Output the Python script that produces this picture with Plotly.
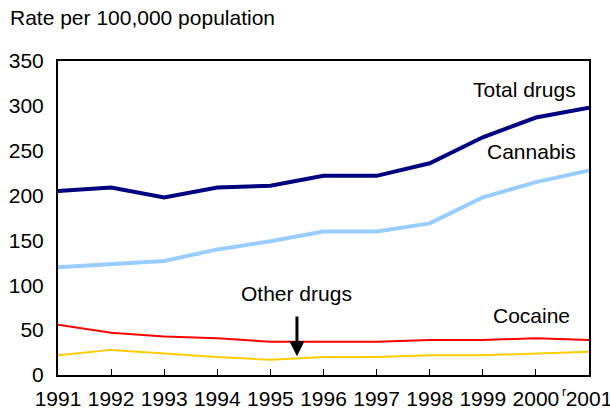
import plotly.graph_objects as go

years = [1991, 1992, 1993, 1994, 1995, 1996, 1997, 1998, 1999, 2000, 2001]
tick_labels = ["1991", "1992", "1993", "1994", "1995", "1996", "1997", "1998", "1999", "2000", "2001"]
total_drugs = [205, 209, 198, 209, 211, 222, 222, 236, 265, 287, 298]
cannabis = [120, 124, 127, 140, 149, 160, 160, 169, 198, 215, 228]
cocaine = [56, 47, 43, 41, 37, 37, 37, 39, 39, 41, 39]
other_drugs = [22, 28, 24, 20, 17, 20, 20, 22, 22, 24, 26]

FONT = "Liberation Sans, Arial, sans-serif"
FS = 21

fig = go.Figure()
fig.add_trace(go.Scatter(x=years, y=other_drugs, mode="lines", line=dict(color="#ffcc00", width=2)))
fig.add_trace(go.Scatter(x=years, y=cocaine, mode="lines", line=dict(color="#ff0000", width=2)))
fig.add_trace(go.Scatter(x=years, y=cannabis, mode="lines", line=dict(color="#99ccff", width=4)))
fig.add_trace(go.Scatter(x=years, y=total_drugs, mode="lines", line=dict(color="#000080", width=4)))

ann = [
    dict(x=2000.8, y=318, xref="x", yref="y", text="Total drugs", xanchor="right", yanchor="middle", showarrow=False),
    dict(x=2000.8, y=249, xref="x", yref="y", text="Cannabis", xanchor="right", yanchor="middle", showarrow=False),
    dict(x=2000.68, y=66, xref="x", yref="y", text="Cocaine", xanchor="right", yanchor="middle", showarrow=False),
    dict(x=1995.5, y=91, xref="x", yref="y", text="Other drugs", xanchor="center", yanchor="middle", showarrow=False),
    dict(x=1995.5, y=21, ax=1995.5, ay=67, axref="x", ayref="y", xref="x", yref="y",
         text="", showarrow=True, arrowhead=2, arrowsize=1, arrowwidth=3, arrowcolor="black"),
    dict(x=-50 / 531, y=1 + 43 / 314, xref="paper", yref="paper", xanchor="left", yanchor="middle",
         text="Rate per 100,000 population", showarrow=False),
    dict(x=2000.52, y=0, xref="x", yref="y", xanchor="center", yanchor="top", yshift=-8,
         text="r", showarrow=False, font=dict(size=12)),
]

fig.update_layout(
    width=610, height=414,
    margin=dict(l=58, r=21, t=61, b=39, autoexpand=False),
    paper_bgcolor="white", plot_bgcolor="white",
    showlegend=False,
    font=dict(family=FONT, size=FS, color="black"),
    annotations=ann,
    xaxis=dict(range=[1991, 2001], tickvals=years, ticktext=tick_labels, automargin=False,
               ticks="inside", ticklen=6, tickcolor="black", tickwidth=1,
               ticklabeloverflow="allow", ticklabelstandoff=4,
               showline=True, linecolor="black", linewidth=2, mirror=True,
               showgrid=False, zeroline=False, tickfont=dict(size=FS)),
    yaxis=dict(range=[0, 350], tickvals=[0, 50, 100, 150, 200, 250, 300, 350], automargin=False,
               ticks="", ticklabelstandoff=8,
               showline=True, linecolor="black", linewidth=2, mirror=True,
               showgrid=False, zeroline=False, tickfont=dict(size=FS)),
)
fig.write_html("out.html", config={"displayModeBar": False},
               post_script="document.body.style.margin='0';document.body.style.overflow='hidden';")
